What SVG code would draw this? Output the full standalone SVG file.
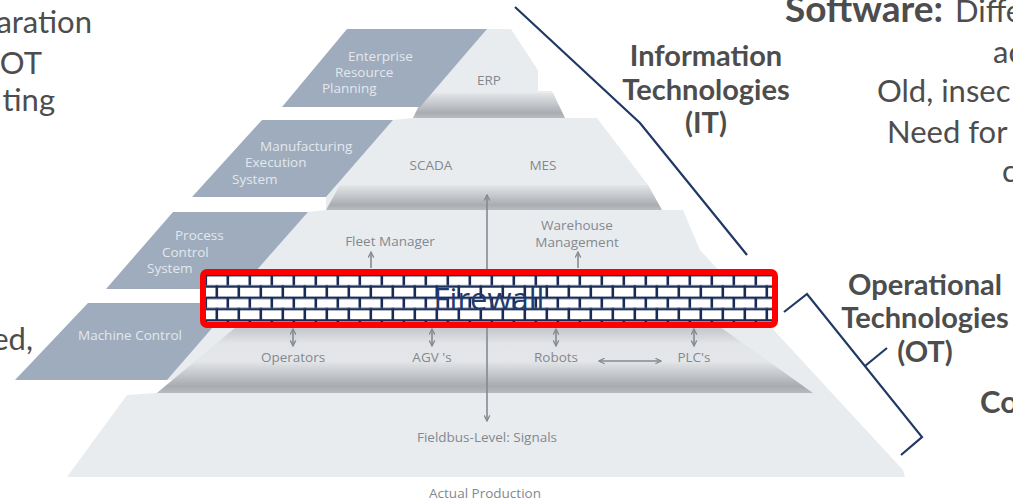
<svg xmlns="http://www.w3.org/2000/svg" width="1013" height="502" viewBox="0 0 1013 502">
<style>
.big{font-family:Lato,"Open Sans","Liberation Sans",sans-serif;font-size:31px;fill:#4d4d4d}
.lbl{font-family:Lato,"Open Sans","Liberation Sans",sans-serif;font-size:29px;font-weight:700;fill:#4d4d4d}
.pl{font-family:"Open Sans","Liberation Sans",sans-serif;font-size:13.5px;fill:#83888f}
.pw{font-family:"Open Sans","Liberation Sans",sans-serif;font-size:13.5px;fill:#e3e8ee}
.face{fill:#e9ecef}
.para{fill:#9eacbd}
.arr{stroke:#858a91;stroke-width:1.6;fill:none}
.nav{stroke:#1f3864;stroke-width:2.2;fill:none;stroke-linejoin:miter}
</style>
<defs>
<linearGradient id="band" x1="0" y1="0" x2="0" y2="1">
<stop offset="0" stop-color="#e4e6e9"/>
<stop offset="0.8" stop-color="#a9adb2"/>
<stop offset="1" stop-color="#b9bdc2"/>
</linearGradient>
<linearGradient id="band4" x1="0" y1="0" x2="0" y2="1">
<stop offset="0" stop-color="#b8bbc0"/>
<stop offset="0.3" stop-color="#e2e4e7"/>
<stop offset="0.55" stop-color="#e4e6e9"/>
<stop offset="0.9" stop-color="#a8acb1"/>
<stop offset="1" stop-color="#b6babf"/>
</linearGradient>
<pattern id="bricks" patternUnits="userSpaceOnUse" x="208" y="274" width="22" height="22.6">
<rect width="22" height="22.6" fill="#ffffff"/>
<rect x="0" y="0" width="22" height="2.4" fill="#1a2b57"/>
<rect x="0" y="11.3" width="22" height="2.4" fill="#1a2b57"/>
<rect x="18.5" y="0" width="2.6" height="11.3" fill="#1a2b57"/>
<rect x="7.5" y="11.3" width="2.6" height="11.3" fill="#1a2b57"/>
</pattern>
<marker id="ah" viewBox="0 0 10 10" refX="9" refY="5" markerWidth="7" markerHeight="7" markerUnits="userSpaceOnUse" orient="auto-start-reverse">
<path d="M1,1 L9,5 L1,9" stroke="#858a91" stroke-width="1.8" fill="none"/>
</marker>
</defs>

<g id="pyramid">
<polygon class="face" points="487,29 511,29 553,93 565,118 597,118 648,185 662,210 683,210 700,250 903,470 905,477 67,477 127,395 157,393 172,380 167,380 234,303 200,303 200,289 240,289 308,212 326,210 326,197 393,120 413,118 420,107"/>
<polygon fill="url(#band)" points="425,93 553,93 565,118 413,118"/>
<polygon fill="url(#band)" points="340,185 648,185 662,210 326,210"/>
<polygon fill="url(#band4)" points="242,322 713,322 813,393 157,393"/>
<rect x="538" y="0" width="90" height="91" fill="#ffffff"/>
</g>

<g id="erp-tier">
<polygon class="para" points="347,29 487,29 420,107 282,107"/>
<text class="pw" x="348" y="61">Enterprise</text>
<text class="pw" x="335" y="77">Resource</text>
<text class="pw" x="322" y="93">Planning</text>
<text class="pl" x="489" y="85" text-anchor="middle">ERP</text>
</g>

<g id="mes-tier">
<polygon class="para" points="262,120 393,120 326,197 192,197"/>
<text class="pw" x="260" y="151">Manufacturing</text>
<text class="pw" x="245" y="167">Execution</text>
<text class="pw" x="232" y="184">System</text>
<text class="pl" x="431" y="170" text-anchor="middle">SCADA</text>
<text class="pl" x="543" y="170" text-anchor="middle">MES</text>
</g>

<g id="process-tier">
<polygon class="para" points="173,212 308,212 240,289 106,289"/>
<text class="pw" x="175" y="240">Process</text>
<text class="pw" x="162" y="257">Control</text>
<text class="pw" x="147" y="273">System</text>
<text class="pl" x="390" y="246" text-anchor="middle">Fleet Manager</text>
<text class="pl" x="577" y="230" text-anchor="middle">Warehouse</text>
<text class="pl" x="577" y="247" text-anchor="middle">Management</text>
</g>

<g id="machine-tier">
<polygon class="para" points="88,303 234,303 167,380 15,380"/>
<text class="pw" x="78" y="340">Machine Control</text>
<text class="pl" x="293" y="362" text-anchor="middle">Operators</text>
<text class="pl" x="432" y="362" text-anchor="middle">AGV 's</text>
<text class="pl" x="556" y="362" text-anchor="middle">Robots</text>
<text class="pl" x="694" y="362" text-anchor="middle">PLC's</text>
</g>

<g id="fieldbus-tier">
<text class="pl" x="487" y="442" text-anchor="middle">Fieldbus-Level: Signals</text>
<text class="pl" x="485" y="498" text-anchor="middle">Actual Production</text>
</g>

<g id="connectors">
<line class="arr" x1="487" y1="195" x2="487" y2="421" marker-start="url(#ah)" marker-end="url(#ah)"/>
<line class="arr" x1="371" y1="268" x2="371" y2="252" marker-end="url(#ah)"/>
<line class="arr" x1="578" y1="268" x2="578" y2="252" marker-end="url(#ah)"/>
<line class="arr" x1="293" y1="329" x2="293" y2="346" marker-start="url(#ah)" marker-end="url(#ah)"/>
<line class="arr" x1="432" y1="329" x2="432" y2="346" marker-start="url(#ah)" marker-end="url(#ah)"/>
<line class="arr" x1="556" y1="329" x2="556" y2="346" marker-start="url(#ah)" marker-end="url(#ah)"/>
<line class="arr" x1="694" y1="329" x2="694" y2="346" marker-start="url(#ah)" marker-end="url(#ah)"/>
<line class="arr" x1="599" y1="361" x2="661" y2="361" marker-start="url(#ah)" marker-end="url(#ah)"/>
<polyline class="nav" points="515,7 640,123 747,255"/>
<polyline class="nav" points="784,312 807,294 922,437 901,455"/>
<line class="nav" x1="865" y1="366" x2="887" y2="348"/>
</g>

<g id="firewall">
<rect x="203" y="272" width="572" height="53" rx="4" fill="url(#bricks)" stroke="#ff0000" stroke-width="6"/>
<text x="489" y="310" text-anchor="middle" font-family="'Open Sans','Liberation Sans',sans-serif" font-size="31" fill="#1f3a6e">Firewall</text>
</g>

<g id="it-label">
<text class="lbl" x="706" y="66" text-anchor="middle">Information</text>
<text class="lbl" x="706" y="100" text-anchor="middle">Technologies</text>
<text class="lbl" x="706" y="133" text-anchor="middle">(IT)</text>
</g>

<g id="ot-label">
<text class="lbl" x="925" y="295" text-anchor="middle">Operational</text>
<text class="lbl" x="925" y="328" text-anchor="middle">Technologies</text>
<text class="lbl" x="925" y="362" text-anchor="middle">(OT)</text>
</g>

<g id="side-text">
<text class="big" x="92" y="33" text-anchor="end">aration</text>
<text class="big" x="42" y="74" text-anchor="end">OT</text>
<text class="big" x="55" y="111" text-anchor="end">ting</text>
<text class="big" x="33" y="350" text-anchor="end">ed,</text>
<text class="big" y="22"><tspan x="785" font-weight="700" style="font-size:37px">Software:</tspan><tspan x="955">Diffe</tspan></text>
<text class="big" x="993" y="63">ac</text>
<text class="big" x="877" y="102">Old, insec</text>
<text class="big" x="887" y="143">Need for</text>
<text class="big" x="1002" y="182">c</text>
<text class="lbl" x="980" y="413" style="font-size:31px">Co</text>
</g>
</svg>
